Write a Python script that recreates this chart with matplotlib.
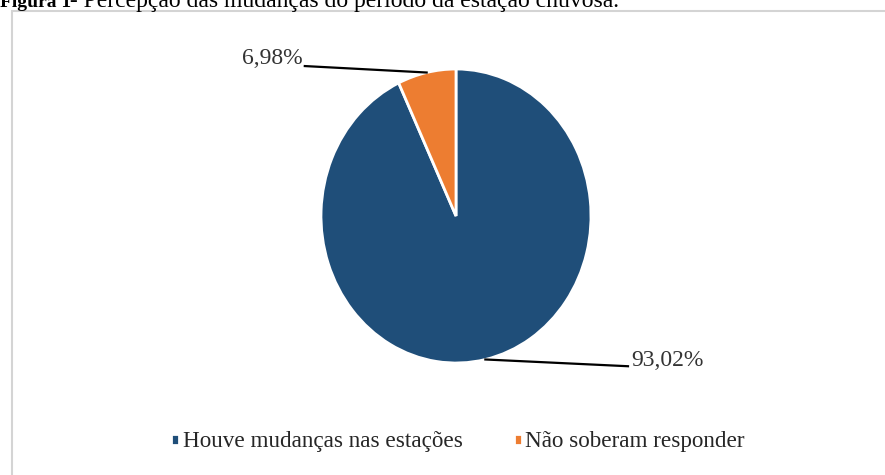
import numpy as np
import matplotlib.pyplot as plt
from matplotlib.patches import Rectangle

plt.rcParams['font.family'] = ['Liberation Serif', 'DejaVu Serif']

# Dados da figura
categorias = ["Houve mudanças nas estações", "Não soberam responder"]
valores = [93.02, 6.98]
cores = ["#1F4E79", "#ED7D31"]
rotulos = ["93,02%", "6,98%"]

W, H = 885, 475
fig = plt.figure(figsize=(W / 100, H / 100), dpi=100)

# moldura cinza do gráfico
fig.patches.append(Rectangle((12 / W, -0.05), 1.0, (H - 11) / H + 0.05,
                             transform=fig.transFigure, fill=False,
                             edgecolor="#d4d4d4", linewidth=1.5))

# título (cortado no topo)
fig.text(0.5 / W, (H - 7) / H, "Figura 1", fontsize=14, fontweight="bold",
         va="baseline", ha="left")
fig.text(64 / W, (H - 7) / H,
         " - Percepção das mudanças do período da estação chuvosa.",
         fontsize=17, va="baseline", ha="left")

# eixo da pizza: centro (456, 216), raios 135 x 147 px
cx, cy, rx, ry = 456, 216, 135, 147
ax = fig.add_axes([(cx - rx) / W, (H - cy - ry) / H, 2 * rx / W, 2 * ry / H])
wedges, _ = ax.pie(valores, colors=cores, startangle=90, counterclock=False,
                   wedgeprops=dict(edgecolor="white", linewidth=2))
ax.set_aspect("auto")
ax.set_xlim(-1, 1)
ax.set_ylim(-1, 1)

# linhas de chamada e rótulos
pos_linha = [(1.274, -1.022), (-1.12, 1.02)]
pos_texto = [(1.30, -0.985), (-1.135, 1.07)]
alinh = ["left", "right"]
for w, (lx, ly), (tx, ty), ha, txt in zip(wedges, pos_linha, pos_texto, alinh, rotulos):
    ang = np.deg2rad((w.theta1 + w.theta2) / 2)
    px, py = np.cos(ang), np.sin(ang)
    ax.plot([px, lx], [py, ly], color="black", linewidth=1.6, clip_on=False)
    ax.text(tx, ty, txt, fontsize=17, ha=ha, va="center", color="#333333")

fig.legend(wedges, categorias, loc="center", bbox_to_anchor=(458 / W, (H - 442) / H),
           ncol=2, frameon=False, fontsize=16.7, handlelength=0.35, handleheight=0.35,
           handletextpad=0.15, columnspacing=2.2, labelcolor="#262626")

fig.savefig("out.png", dpi=100)
